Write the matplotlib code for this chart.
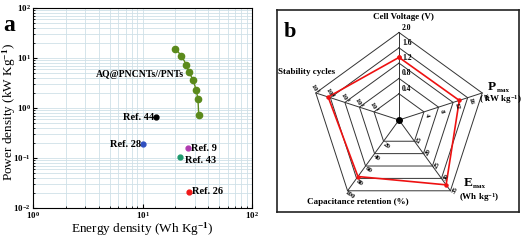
import numpy as np
import matplotlib
matplotlib.use('Agg')
import matplotlib.pyplot as plt

plt.rcParams['font.family'] = ['Liberation Serif', 'DejaVu Serif']
plt.rcParams['font.weight'] = 'bold'
plt.rcParams['mathtext.fontset'] = 'custom'
plt.rcParams['mathtext.rm'] = 'Liberation Serif:bold'
plt.rcParams['mathtext.bf'] = 'Liberation Serif:bold'
plt.rcParams['mathtext.default'] = 'bf'

# panel a : Ragone plot
aq_energy = [20.0, 22.6, 25.1, 26.4, 28.9, 31.0, 32.1, 32.6]
aq_power = [15.2, 11.2, 7.4, 5.3, 3.7, 2.25, 1.5, 0.74]
ref_names = ['Ref. 44', 'Ref. 28', 'Ref. 9', 'Ref. 43', 'Ref. 26']
ref_energy = [13.4, 10.1, 26.0, 22.0, 26.4]
ref_power = [0.65, 0.19, 0.158, 0.106, 0.021]
ref_colors = ['black', '#2f4fc0', '#b03cb0', '#1e9a6e', '#f01818']

# panel b : radar
radar_ticks = [['0.4', '0.8', '1.2', '1.6', '2.0'],
               ['4', '8', '12', '16', '20'],
               ['15', '20', '25', '30', '35'],
               ['20', '40', '60', '80', '100'],
               ['$10^1$', '$10^2$', '$10^3$', '$10^4$', '$10^5$']]
# cell voltage, Pmax, Emax, capacitance retention, cycles (log10)
radar_vals = [1.35, 13.7, 32.6, 77, 4.15]
tick_first = [0.4, 4, 15, 20, 1]
tick_step = [0.4, 4, 5, 20, 1]

fig = plt.figure(figsize=(5.21, 2.41), dpi=100)

ax = fig.add_axes([33/521, 33/241, 219/521, 200/241])
ax.set_xscale('log')
ax.set_yscale('log')
ax.set_xlim(1, 100)
ax.set_ylim(0.01, 100)
ax.grid(True, which='both', color='#cfe0e8', lw=0.6)
ax.set_axisbelow(True)
ax.plot(aq_energy, aq_power, '-o', color='#5b8a1c', ms=4.5, lw=1, zorder=3)
for n, e, p, c in zip(ref_names, ref_energy, ref_power, ref_colors):
    ax.plot(e, p, 'o', color=c, ms=3.5, zorder=3)
    if n in ('Ref. 44', 'Ref. 28'):
        ax.text(e / 1.05, p, n, ha='right', va='center', fontsize=7.5)
    elif n == 'Ref. 43':
        ax.text(e * 1.12, p * 0.85, n, ha='left', va='center', fontsize=7.5)
    else:
        ax.text(e * 1.07, p, n, ha='left', va='center', fontsize=7.5)
ax.text(9.5, 4.6, 'AQ@PNCNTs//PNTs', ha='center', va='center', fontsize=7)
ax.tick_params(which='both', direction='in', labelsize=6.5, length=3, pad=1.5)
ax.tick_params(which='minor', length=1.5)
ax.set_xlabel('Energy density (Wh Kg$^{-1}$)', fontsize=9.5, va='center')
ax.set_ylabel('Power density (kW Kg$^{-1}$)', fontsize=9.5, va='center')
ax.xaxis.set_label_coords(0.5, -0.105)
ax.yaxis.set_label_coords(-0.11, 0.48)
fig.text(3/521, 1 - 31/241, 'a', fontsize=17)

# radar panel, data units = pixels
bx = fig.add_axes([277/521, 29/241, 242/521, 202/241])
bx.set_xlim(-122, 120)
bx.set_ylim(-92, 110)
bx.set_xticks([])
bx.set_yticks([])
for s in bx.spines.values():
    s.set_linewidth(1.2)
    s.set_color('#222222')

R = 87.5
ring_r = 0.3 + 0.175 * np.arange(5)
ang = np.deg2rad(90 - 72 * np.arange(5))
ux, uy = np.cos(ang), np.sin(ang)
for r in ring_r:
    bx.plot(np.append(ux, ux[0]) * r * R, np.append(uy, uy[0]) * r * R, color='#333333', lw=0.7)
for i in range(5):
    bx.plot([0, ux[i] * R], [0, uy[i] * R], color='#333333', lw=0.7)

frac = np.array([0.3 + 0.175 * (v - f) / s for v, f, s in zip(radar_vals, tick_first, tick_step)])
bx.plot(np.append(ux * frac, ux[0] * frac[0]) * R, np.append(uy * frac, uy[0] * frac[0]) * R,
        '-o', color='#ee1111', lw=1.2, ms=2.2)
bx.plot(0, 0, 'o', color='black', ms=4)

# tick labels on spokes
rots = [0, -75, 60, -35, -60]
side = [0, -1, 1, 1, -1]
for i in range(5):
    for k in range(5):
        r = ring_r[k] * R
        if i == 0:
            bx.text(3, r + 5, radar_ticks[i][k], fontsize=5.5, ha='left', va='center')
        else:
            nx, ny = -uy[i], ux[i]
            px = ux[i] * (r + 2) + side[i] * nx * 4.5
            py = uy[i] * (r + 2) + side[i] * ny * 4.5
            bx.text(px, py, radar_ticks[i][k], fontsize=5, ha='center', va='center',
                    rotation=rots[i])

bx.text(4, 103, 'Cell Voltage (V)', ha='center', va='center', fontsize=6.5)
bx.text(93, 33, 'P', ha='center', va='center', fontsize=9.5)
bx.text(98, 30, 'max', ha='left', va='center', fontsize=5)
bx.text(101, 20, '( kW kg$^{-1}$)', ha='center', va='center', fontsize=6.5)
bx.text(69, -63, 'E', ha='center', va='center', fontsize=9.5)
bx.text(74, -66, 'max', ha='left', va='center', fontsize=5)
bx.text(80, -77, '(Wh kg$^{-1}$)', ha='center', va='center', fontsize=6.5)
bx.text(-92, 48, 'Stability cycles', ha='center', va='center', fontsize=6.5)
bx.text(-41, -82, 'Capacitance retention (%)', ha='center', va='center', fontsize=6.5)
bx.text(-109, 88, 'b', ha='center', va='center', fontsize=16)

fig.savefig('out.png', dpi=100)
